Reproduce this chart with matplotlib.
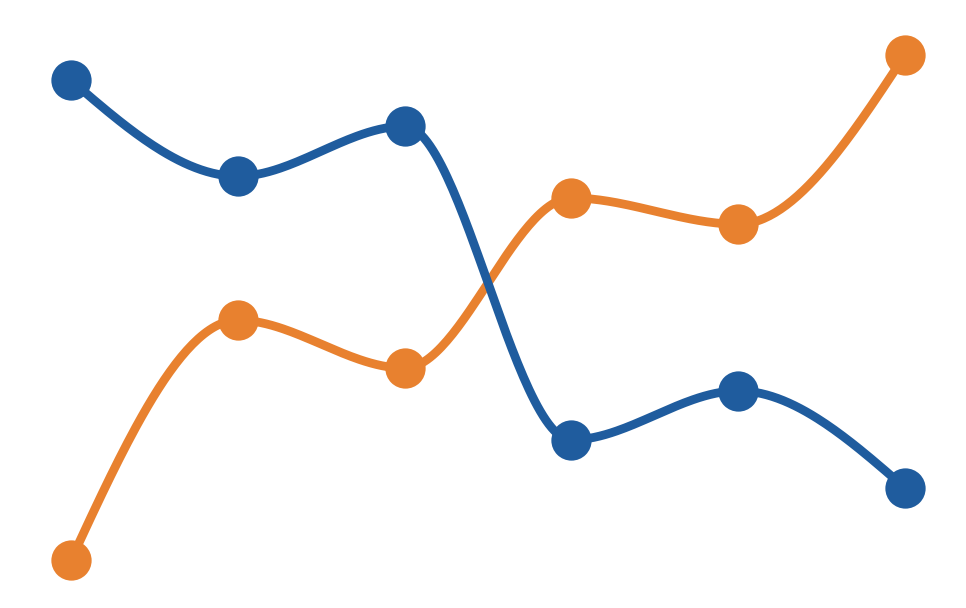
import numpy as np
import matplotlib
matplotlib.use("Agg")
import matplotlib.pyplot as plt

steps = [0, 1, 2, 3, 4, 5]
blue_vals = [95.0, 76.0, 85.9, 23.8, 33.5, 14.3]
orange_vals = [0.0, 47.5, 38.0, 71.7, 66.5, 100.0]

BLUE = "#1f5c9e"
ORANGE = "#e8812f"


def monotone_x(x, y, n=60):
    # same idea as d3.curveMonotoneX
    x = np.asarray(x, float)
    y = np.asarray(y, float)
    h = np.diff(x)
    s = np.diff(y) / h
    t = np.zeros(len(x))
    for i in range(1, len(x) - 1):
        s0, s1 = s[i - 1], s[i]
        p = (s0 * h[i] + s1 * h[i - 1]) / (h[i - 1] + h[i])
        t[i] = (np.sign(s0) + np.sign(s1)) * min(abs(s0), abs(s1), 0.5 * abs(p)) or 0.0
    t[0] = (3 * s[0] - t[1]) / 2
    t[-1] = (3 * s[-1] - t[-2]) / 2
    xs, ys = [], []
    u = np.linspace(0, 1, n)
    for i in range(len(x) - 1):
        dx = h[i] / 3
        px = [x[i], x[i] + dx, x[i + 1] - dx, x[i + 1]]
        py = [y[i], y[i] + dx * t[i], y[i + 1] - dx * t[i + 1], y[i + 1]]
        b = [(1 - u) ** 3, 3 * u * (1 - u) ** 2, 3 * u ** 2 * (1 - u), u ** 3]
        xs.append(sum(bb * pp for bb, pp in zip(b, px)))
        ys.append(sum(bb * pp for bb, pp in zip(b, py)))
    return np.concatenate(xs), np.concatenate(ys)


fig = plt.figure(figsize=(9.66, 6.08), dpi=100)
ax = fig.add_axes([0, 0, 1, 1])

# orange first so the blue line sits on top where they cross
for vals, col in [(orange_vals, ORANGE), (blue_vals, BLUE)]:
    cx, cy = monotone_x(steps, vals)
    ax.plot(cx, cy, color=col, lw=6.3, solid_capstyle="round")
    ax.plot(steps, vals, "o", color=col, ms=29, mec="none")

ax.set_xlim(-0.4257, 5.366)
ax.set_ylim(-9.5, 110.9)
ax.axis("off")

fig.savefig("out.png", dpi=100)
